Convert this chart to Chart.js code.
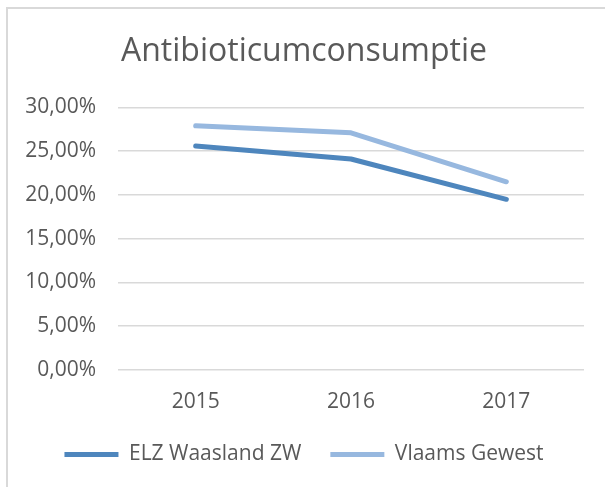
<!DOCTYPE html>
<html>
<head>
<meta charset="utf-8">
<script src="https://cdn.jsdelivr.net/npm/chart.js@4.4.1/dist/chart.umd.min.js"></script>
<style>
    html, body { margin: 0; padding: 0; background: #fff; }
    #wrap { position: relative; width: 605px; height: 487px; overflow: hidden; }
    #frame { position: absolute; left: 6px; top: 7px; width: 640px; height: 520px; border: 2px solid #d9d9d9; box-sizing: border-box; }
    #chart { position: absolute; left: 0; top: 0; }
</style>
</head>
<body>
<div id="wrap">
    <div id="frame"></div>
    <canvas id="chart" width="605" height="487"></canvas>
</div>
<script>
// data (percent)
const years = ['2015', '2016', '2017'];
const elzWaasland = [25.6, 24.1, 19.5];
const vlaamsGewest = [27.9, 27.1, 21.5];
const seriesNames = ['ELZ Waasland ZW', 'Vlaams Gewest'];
const chartTitle = 'Antibioticumconsumptie';

var CHART = (function (CHART) {
    "use strict";
    const TEXT = '#595959';
    const GRID = '#d9d9d9';
    const FONT = "'Open Sans', 'Noto Sans', sans-serif";

    //comma as decimal sign, like the excel original
    CHART.pct = v => v.toFixed(2).replace('.', ',') + '%';

    CHART.draw = function () {
        const ctx = document.getElementById('chart').getContext('2d');
        CHART.OBJ = new Chart(ctx, {
            type: 'line',
            data: {
                labels: years,
                datasets: [
                    { label: seriesNames[0], data: elzWaasland, borderColor: '#4e86bd', backgroundColor: '#4e86bd', borderWidth: 5, borderCapStyle: 'round', borderJoinStyle: 'round', pointRadius: 0, tension: 0 },
                    { label: seriesNames[1], data: vlaamsGewest, borderColor: '#97b8df', backgroundColor: '#97b8df', borderWidth: 5, borderCapStyle: 'round', borderJoinStyle: 'round', pointRadius: 0, tension: 0 }
                ]
            },
            options: {
                responsive: false, animation: false,
                layout: { padding: { left: 24, right: 21, top: 0, bottom: 12 } },
                plugins: {
                    title: { display: true, text: chartTitle, color: TEXT, font: { family: FONT, size: 32, weight: 'normal' }, padding: { top: 33, bottom: 36 } },
                    legend: {
                        position: 'bottom',
                        labels: { color: TEXT, font: { family: FONT, size: 21 }, usePointStyle: true, pointStyle: 'line', pointStyleWidth: 54, boxHeight: 21, padding: 29 }
                    },
                    tooltip: { enabled: false }
                },
                scales: {
                    x: {
                        offset: true,
                        afterFit: s => { s.height = 45; },
                        grid: { display: false, drawTicks: false },
                        border: { display: false },
                        ticks: { color: TEXT, font: { family: FONT, size: 21 }, padding: 19 }
                    },
                    y: {
                        min: 0, max: 30,
                        afterFit: s => { s.width = 94; },
                        grid: { color: GRID, lineWidth: 1.5, drawTicks: false },
                        border: { display: false },
                        ticks: { stepSize: 5, color: TEXT, font: { family: FONT, size: 21 }, padding: 22, callback: v => CHART.pct(v) }
                    }
                }
            }
        });
    };

    CHART.run = function () {
        CHART.draw();
    };
    return CHART;
})(window.CHART || {});
CHART.run();
</script>
</body>
</html>
